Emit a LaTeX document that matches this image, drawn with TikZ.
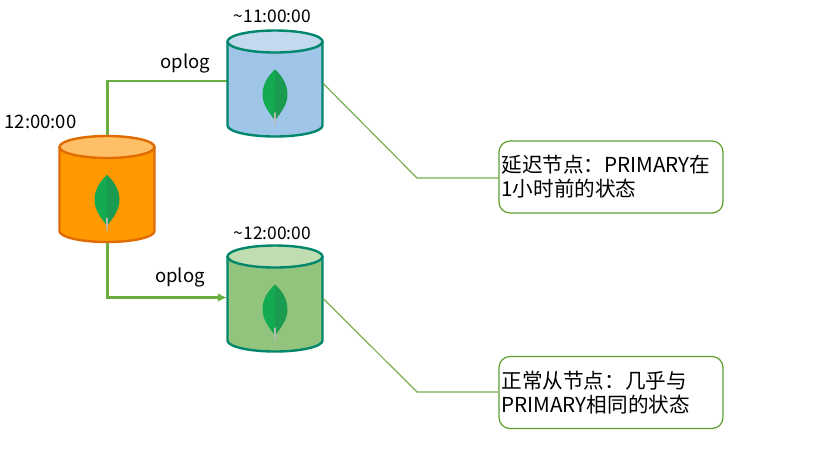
\documentclass[tikz,border=0pt]{standalone}
\usepackage{fontspec}
\setmainfont{Noto Sans CJK SC}
\usetikzlibrary{arrows.meta}
\definecolor{lineg}{HTML}{6AAE3F}
\definecolor{calloutg}{HTML}{76AF52}
\definecolor{boxg}{HTML}{5E9E30}
\definecolor{tealb}{HTML}{00876C}
\definecolor{blueb}{HTML}{9FC5E8}
\definecolor{bluet}{HTML}{C3D9EE}
\definecolor{greenb}{HTML}{93C47D}
\definecolor{greent}{HTML}{C0DDB2}
\definecolor{orangeb}{HTML}{FF9900}
\definecolor{oranget}{HTML}{FFBF66}
\definecolor{oranged}{HTML}{E06C00}
\definecolor{leafl}{HTML}{13AA52}
\definecolor{leafd}{HTML}{1A9C50}
\tikzset{
  cylbase/.style={inner sep=0pt,minimum width=96pt,minimum height=106pt},
  conn/.style={draw=lineg,line width=2.4pt},
  callout/.style={draw=calloutg,line width=1.2pt},
  notebox/.style={draw=boxg,line width=1.2pt,rounded corners=11pt,minimum width=224pt,inner sep=0pt,align=left,font=\fontsize{20.6}{24}\selectfont,text width=219pt},
  lbl/.style={inner sep=0pt,font=\fontsize{18.5}{20}\selectfont},
  tm/.style={inner sep=0pt,font=\fontsize{17.4}{20}\selectfont}
}
\newcommand{\mycyl}[5]{% center x, center y, body, top, line
  \begin{scope}[shift={(#1,#2)}]
    \path[fill=#3] (-47.5,-42) -- (-47.5,42) arc[start angle=180,end angle=0,x radius=47.5,y radius=11] -- (47.5,-42) -- cycle;
    \path[fill=#4,draw=#5,line width=2.4pt] (0,-42) ellipse[x radius=47.5,y radius=11];
    \draw[#5,line width=2.4pt] (-47.5,-42) -- (-47.5,42) arc[start angle=180,end angle=0,x radius=47.5,y radius=11] -- (47.5,-42);
    \fill[leafl] (0,-14) .. controls (-8,-7) and (-12.5,2) .. (-12.5,11) .. controls (-12.5,21) and (-6,29) .. (0,37) -- cycle;
    \fill[leafd] (0,-14) .. controls (8,-7) and (12.5,2) .. (12.5,11) .. controls (12.5,21) and (6,29) .. (0,37) -- cycle;
    \fill[gray!55] (-1,29) -- (1,29) -- (0.6,42) -- (-0.6,42) -- cycle;
  \end{scope}}
\begin{document}
\begin{tikzpicture}[x=1pt,y=-1pt]
\useasboundingbox (0,0) rectangle (839,451);
\fill[white] (0,0) rectangle (839,451);
\node[cylbase] (blue) at (275,83.5) {};
\node[cylbase] (orange) at (107,189) {};
\node[cylbase] (green) at (275,298.5) {};
\coordinate (upbend) at (107.5,81);
\coordinate (downbend) at (107.5,297.5);
\coordinate (c1) at (417,178);
\coordinate (c2) at (417,392);
\draw[conn] (orange.north -| upbend) -- (upbend) -- (upbend -| blue.west);
\draw[conn,-{Latex[length=9pt,width=9pt]}] (orange.south -| downbend) -- (downbend) -- (downbend -| green.west);
\mycyl{275}{83.5}{blueb}{bluet}{tealb}
\mycyl{107}{189}{orangeb}{oranget}{oranged}
\mycyl{275}{298.5}{greenb}{greent}{tealb}
\node[notebox,minimum height=72pt] (n1) at (611,177) {延迟节点：PRIMARY在\\1小时前的状态};
\node[notebox,minimum height=72pt] (n2) at (611,392.5) {正常从节点：几乎与\\PRIMARY相同的状态};
\draw[callout] (blue.east) -- (c1) -- (n1.west |- c1);
\draw[callout] (green.east) -- (c2) -- (n2.west |- c2);
\node[lbl] (t1) at (185.5,63.5) {oplog};
\node[lbl] (t2) at (180,277.5) {oplog};
\node[lbl] (t3) at (40.5,122) {12:00:00};
\node[tm] (t4) at (272.5,16.5) {\textasciitilde11:00:00};
\node[tm] (t5) at (272.5,233) {\textasciitilde12:00:00};
\end{tikzpicture}
\end{document}
